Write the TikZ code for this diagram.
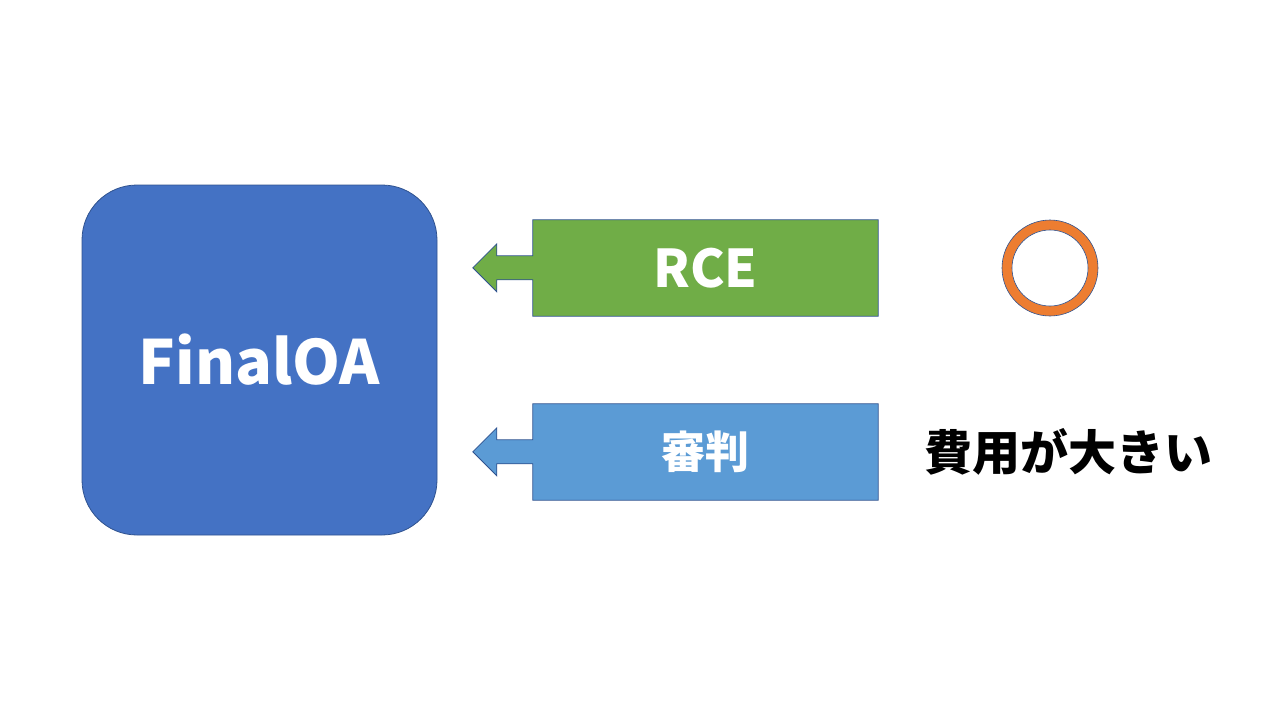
\documentclass[tikz,border=0pt]{standalone}
\usepackage{fontspec}
\newfontfamily\jp{Noto Sans CJK JP}
\usetikzlibrary{backgrounds}
\definecolor{oblue}{HTML}{4472C4}
\definecolor{oline}{HTML}{2F528F}
\definecolor{ogreen}{HTML}{70AD47}
\definecolor{olblue}{HTML}{5B9BD5}
\definecolor{oorange}{HTML}{ED7D31}
\tikzset{
  bigbox/.style={draw=oline, line width=0.8pt, fill=oblue, rounded corners=55pt,
    minimum width=355pt, minimum height=350pt, inner sep=0pt,
    text=white, font=\jp\bfseries\fontsize{61}{66}\selectfont},
  callbox/.style={minimum width=345pt, minimum height=96pt, inner sep=0pt,
    text=white, font=\jp\bfseries\fontsize{52}{56}\selectfont},
  callout/.style={draw=oline, line width=0.8pt, fill=#1},
  lbl/.style={inner sep=0pt, text=black, font=\jp\bfseries\fontsize{48}{52}\selectfont},
}
\begin{document}
\begin{tikzpicture}[x=1pt, y=-1pt]
\useasboundingbox (0,0) rectangle (1280,720);
\node[bigbox] (final) at (259.5,360) {FinalOA};
\node[callbox] (rce) at (705.5,268) {RCE};
\node[callbox, font=\jp\bfseries\fontsize{44}{48}\selectfont] (shinpan) at (705.5,452) {審判};
\begin{scope}[on background layer]
\foreach \n/\c in {rce/ogreen, shinpan/olblue}{
  \path[callout=\c] (\n.north east) -- (\n.north west) -- ++(0,36) -- ++(-36,0)
    -- ++(0,-12) -- ++(-24,24) -- ++(24,24) -- ++(0,-12) -- ++(36,0)
    -- (\n.south west) -- (\n.south east) -- cycle;
}
\end{scope}
\node[circle, minimum size=96pt, inner sep=0pt, fill=oorange, draw=oline, line width=0.6pt] (ring) at (1050,268) {};
\node[circle, minimum size=76pt, inner sep=0pt, fill=white, draw=oline, line width=0.6pt] (ringin) at (ring.center) {};
\node[lbl] (cost) at (1068.5,452) {費用が大きい};
\end{tikzpicture}
\end{document}
